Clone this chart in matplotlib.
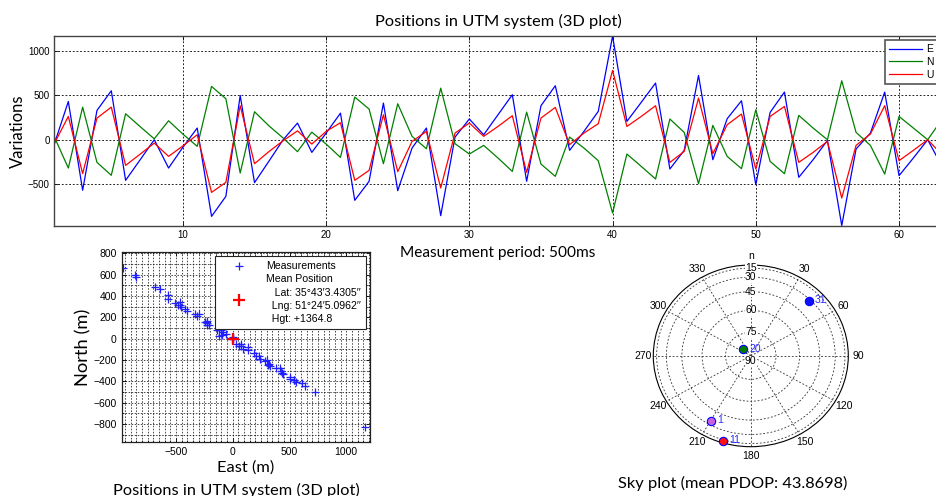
import numpy as np
import matplotlib
matplotlib.use('Agg')
import matplotlib.pyplot as plt
from matplotlib.ticker import MultipleLocator

# ---------------- data ----------------
epochs = list(range(1, 64))
E = [-60, 432, -571, 331, 553, -459, -230, 0, -320, -85,
     132, -866, -640, 500, -485, -244, 0, 188, -143, 75,
     300, -685, -470, 414, -576, -94, 132, -858, 30, 234,
     56, 282, 508, -470, 384, 610, -120, 94, 320, 1170,
     207, 422, 640, -331, -120, 726, -226, 237, 440, -508,
     309, 538, -425, -226, -8, -970, -105, 75, 538, -406,
     -207, 0, -300]
N = [40, -320, 368, -256, -402, 293, 150, 10, 214, 63,
     -75, 602, 463, -376, 316, 158, 19, -135, 86, -49,
     -200, 482, 346, -271, 406, 38, -102, 583, -45, -162,
     -64, -207, -358, 312, -275, -414, 30, -94, -237, -828,
     -162, -301, -444, 234, 83, -497, 162, -188, -327, 339,
     -245, -384, 275, 132, 0, 666, 83, -64, -388, 263,
     132, 0, 230]
U = [-50, 263, -383, 244, 368, -290, -165, -38, -188, -70,
     56, -595, -482, 384, -271, -135, -11, 100, -49, 94,
     192, -459, -346, 282, -361, -19, 94, -545, 75, 188,
     38, 150, 271, -369, 245, 365, -56, 75, 181, 782,
     150, 263, 384, -256, -132, 470, -158, 169, 290, -331,
     263, 376, -256, -143, -19, -659, -64, 64, 384, -237,
     -120, 0, -170]

top_xticks = [10, 20, 30, 40, 50, 60]
top_yticks = [-500, 0, 500, 1000]
scatter_xticks = [-500, 0, 500, 1000]
scatter_yticks = [-800, -600, -400, -200, 0, 200, 400, 600, 800]

mean_e, mean_n = 0, 0
mean_lat = "35°43′3.4305′′"
mean_lng = "51°24′5.0962′′"
mean_hgt = "+1364.8"

sat_prn = [31, 20, 1, 11]
sat_az = [44.5, 311.0, 209.7, 197.1]
sat_el = [32.0, 83.7, 34.6, 12.0]
sat_face = ['#1010ff', '#007a00', '#c860e0', '#ff1010']
pdop = 43.8698

elev_rings = [15, 30, 45, 60, 75]
elev_labels = [15, 30, 45, 60, 75, 90]
az_ticks = list(range(0, 360, 30))
az_labels = ['n', '30', '60', '90', '120', '150', '180', '210', '240', '270', '300', '330']

# ---------------- style ----------------
plt.rcParams['font.family'] = ['Liberation Sans', 'DejaVu Sans']
TF = ['Lato', 'DejaVu Sans']
W, H = 936, 496
fig = plt.figure(figsize=(W / 100, H / 100), dpi=100)
grid_ls = (0, (2.2, 2.2))


def fx(px):
    return px / W


def fy(py):
    return 1 - py / H


# ---------------- top time series ----------------
ax = fig.add_axes([fx(54), fy(226), fx(942) - fx(54), (226 - 36) / H])
ax.plot(epochs, E, color='#0000ff', lw=0.9, label='E')
ax.plot(epochs, N, color='#008000', lw=0.9, label='N')
ax.plot(epochs, U, color='#ff0000', lw=0.9, label='U')
ax.set_xlim(1, 63)
ax.set_ylim(-975, 1172)
ax.set_xticks(top_xticks)
ax.set_yticks(top_yticks)
ax.grid(True, ls=grid_ls, color='k', lw=0.6)
ax.tick_params(direction='in', length=3, width=0.6, labelsize=7, pad=3,
               top=True, right=True)
for s in ax.spines.values():
    s.set_color('#444444')
    s.set_linewidth(1.0)
ax.set_title('Positions in UTM system (3D plot)', family=TF, fontsize=11.8, pad=7)
ax.set_ylabel('Variations', family=TF, fontsize=12, labelpad=1.5)
ax.set_xlabel('Measurement period: 500ms', family=TF, fontsize=11.1, labelpad=4)
leg = ax.legend(loc='upper right', fontsize=7.5, fancybox=False, framealpha=1,
                edgecolor='#555555', handlelength=3.2, borderaxespad=0.4,
                labelspacing=0.25, handletextpad=0.4)
leg.get_frame().set_linewidth(1.2)

# ---------------- scatter E/N ----------------
ax2 = fig.add_axes([fx(121.7), fy(442.3), (370 - 121.7) / W, (442.3 - 252.3) / H])
ax2.plot(E, N, ls='none', marker='+', color='#2020ff', ms=5.8, mew=0.9,
         label='Measurements')
ax2.plot([mean_e], [mean_n], ls='none', marker='+', color='#ff0000', ms=8, mew=1.6,
         label='Mean Position\n   Lat: ' + mean_lat + '\n  Lng: ' + mean_lng +
               '\n  Hgt: ' + mean_hgt)
ax2.set_xlim(-980, 1210)
ax2.set_ylim(-970, 810)
ax2.set_xticks(scatter_xticks)
ax2.set_yticks(scatter_yticks)
ax2.xaxis.set_minor_locator(MultipleLocator(50))
ax2.yaxis.set_minor_locator(MultipleLocator(100))
ax2.grid(True, which='both', ls=grid_ls, color='k', lw=0.5)
ax2.tick_params(which='both', direction='in', labelsize=7.5, top=True, right=True)
ax2.tick_params(which='major', length=3, width=0.6)
ax2.tick_params(which='minor', length=1.5, width=0.5)
for s in ax2.spines.values():
    s.set_color('#222222')
    s.set_linewidth(0.9)
ax2.set_ylabel('North (m)', family=TF, fontsize=13.2, labelpad=1.5)
ax2.set_xlabel('East (m)', family=TF, fontsize=11.8, labelpad=2)
leg2 = ax2.legend(loc='upper right', fontsize=7.6, fancybox=False, framealpha=1,
                  edgecolor='#222222', borderaxespad=0.35, handlelength=3.4,
                  labelspacing=0.3, handletextpad=0.9, borderpad=0.5)
leg2.get_frame().set_linewidth(0.8)
for t in leg2.get_texts():
    t.set_linespacing(1.4)
fig.text(fx(236.5), fy(490), 'Positions in UTM system (3D plot)', family=TF,
         fontsize=11.8, ha='center', va='center')

# ---------------- sky plot ----------------
ax3 = fig.add_axes([fx(653.3), fy(446.7), 195 / W, 181.7 / H], projection='polar')
ax3.set_theta_zero_location('N')
ax3.set_theta_direction(-1)
ax3.set_aspect('auto')
ax3.set_ylim(0, 1)
ax3.set_yticks(np.cos(np.radians(elev_rings)))
ax3.set_yticklabels([])
ax3.set_xticks(np.radians(az_ticks))
ax3.set_xticklabels([])
ax3.tick_params(length=0)
ax3.grid(True, ls=grid_ls, color='#333333', lw=0.6)
ax3.spines['polar'].set_color('k')
ax3.spines['polar'].set_linewidth(0.8)
for el in elev_labels:
    dy = -4 if el == 90 else 0
    ax3.annotate(str(el), (0, np.cos(np.radians(el))), xytext=(0, dy),
                 textcoords='offset points', ha='center', va='center',
                 fontsize=7.5, bbox=dict(fc='white', ec='none', pad=0.3), zorder=3)
for az, lab in zip(az_ticks, az_labels):
    ax3.text(np.radians(az), 1.1, lab, ha='center', va='center', fontsize=7.5,
             clip_on=False)
for prn, az, el, fc in zip(sat_prn, sat_az, sat_el, sat_face):
    th, r = np.radians(az), np.cos(np.radians(el))
    ax3.plot([th], [r], ls='none', marker='o', ms=6, mfc=fc, mec='#0000ff',
             mew=0.8, zorder=4, clip_on=False)
    ax3.annotate(str(prn), (th, r), xytext=(4.5, 0.5), textcoords='offset points',
                 color='#2a2aff', fontsize=7.5, va='center', ha='left', zorder=5)
fig.text(fx(733), fy(483), 'Sky plot (mean PDOP: %.4f)' % pdop, family=TF,
         fontsize=11.8, ha='center', va='center')

fig.savefig('out.png', dpi=100)
